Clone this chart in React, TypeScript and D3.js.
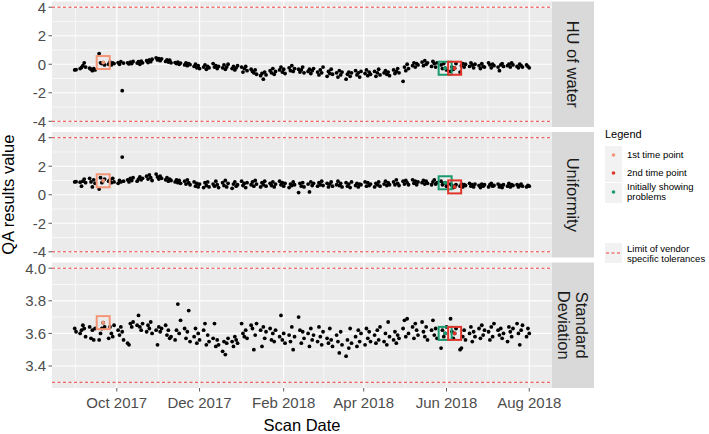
import React from "react";
import * as d3 from "d3";

const parseDate = d3.timeParse("%Y-%m-%d");

// scans were done on working days between these two dates
const scanStart = "2017-08-31";
const scanEnd = "2018-08-01";

const xTickDates = ["2017-10-01", "2017-12-01", "2018-02-01", "2018-04-01", "2018-06-01", "2018-08-01"];
const xTickLabels = ["Oct 2017", "Dec 2017", "Feb 2018", "Apr 2018", "Jun 2018", "Aug 2018"];

const facetLabels = [["HU of water"], ["Uniformity"], ["Standard", "Deviation"]];

const huWater = [
  -0.40, -0.38,
  -0.30, -0.22, -0.10, 0.10, -0.20,
  -0.28, -0.35, -0.45, -0.30, -0.40,
  0.75, 0.10, 0.05, 0.12, -0.05,
  0.00, 0.15, -0.05, 0.10, 0.05,
  0.12, 0.00, 0.18, -1.85, 0.08,
  0.10, 0.02, 0.15, 0.05, 0.20,
  0.08, 0.18, 0.00, 0.22, 0.10,
  0.25, 0.12, 0.30, 0.18, 0.35,
  0.45, 0.30, 0.40, 0.25, 0.38,
  0.20, 0.30, 0.15, 0.28, 0.10,
  0.12, 0.05, 0.15, 0.00, 0.08,
  -0.05, 0.10, -0.10, 0.05, -0.02,
  -0.15, 0.00, -0.25, -0.10, -0.30,
  -0.20, -0.05, -0.35, -0.15, -0.25,
  0.05, -0.20, -0.10, -0.30, -0.15,
  -0.25, -0.05, -0.35, -0.20, 0.00,
  -0.30, -0.15, -0.40, -0.25, -0.10,
  -0.20, -0.55, -0.30, -0.15, -0.45,
  -0.35, -0.50, -0.60, -0.40, -0.70,
  -0.80, -0.65, -1.05, -0.55, -0.75,
  -0.45, -0.60, -0.30, -0.70, -0.50,
  -0.40, -0.20, -0.55, -0.35, -0.65,
  -0.25, -0.45, -0.10, -0.50, -0.30,
  -0.35, -0.55, -0.40, -0.20, -0.60,
  -0.50, -0.35, -0.65, -0.45, -0.30,
  -0.55, -0.75, -0.40, -0.60, -0.20,
  -0.85, -0.50, -0.65, -0.35, -0.70,
  -0.60, -0.90, -0.45, -0.75, -0.55,
  -1.05, -0.70, -0.55, -0.85, -0.60,
  -0.45, -0.75, -0.60, -0.90, -0.50,
  -0.65, -0.40, -0.80, -0.55, -0.70,
  -0.50, -0.85, -0.60, -0.35, -0.75,
  -0.60, -0.45, -0.70, -0.55, -0.80,
  -0.40, -0.65, -0.50, -0.30, -0.60,
  -1.20, -0.20, -0.45, 0.00, -0.30,
  -0.10, 0.10, -0.20, 0.05, -0.05,
  0.15, -0.10, 0.25, 0.00, 0.10,
  -0.15, 0.20, 0.05, -0.20, 0.10,
  -0.05, -0.30, 0.05, -0.28, -0.40,
  -0.50, -0.20, -0.35, -0.28, 0.05,
  -0.55, -0.10, 0.05, -0.20, 0.00,
  -0.15, 0.10, -0.05, -0.25, 0.00,
  -0.10, -0.30, 0.05, -0.15, -0.20,
  0.10, -0.05, -0.25, 0.00, -0.10,
  -0.20, -0.45, -0.05, 0.05, -0.15,
  -0.10, 0.00, -0.20, 0.10, -0.05,
  -0.15, -0.25, 0.00, -0.10, -0.20,
  -0.05, -0.15, -0.25,
];

const uniformity = [
  0.90, 0.92,
  0.88, 0.60, 0.95, 1.10, 0.85,
  1.15, 0.90, 0.55, 1.05, 0.80,
  0.40, 1.20, 0.85, 0.98, 1.10,
  0.95, 1.05, 0.85, 1.15, 0.90,
  0.80, 1.00, 0.90, 2.64, 0.95,
  1.05, 0.90, 1.15, 1.00, 1.20,
  0.95, 1.10, 1.25, 1.05, 1.15,
  1.30, 1.10, 1.40, 1.20, 1.00,
  1.45, 1.25, 1.10, 1.30, 1.15,
  1.05, 1.20, 0.95, 1.10, 1.00,
  0.90, 1.05, 0.85, 1.00, 0.80,
  0.95, 0.75, 1.05, 0.85, 0.70,
  0.90, 0.60, 0.80, 0.55, 0.75,
  0.50, 0.85, 0.65, 0.90, 0.55,
  0.75, 0.60, 0.95, 0.70, 0.50,
  0.85, 0.65, 1.00, 0.55, 0.80,
  0.45, 0.75, 0.90, 0.60, 0.70,
  0.95, 0.65, 0.80, 0.50, 0.85,
  0.70, 0.90, 0.60, 1.00, 0.75,
  0.55, 0.85, 0.70, 0.95, 0.60,
  0.80, 0.65, 0.90, 0.55, 0.75,
  0.95, 0.70, 0.85, 0.60, 0.80,
  0.50, 0.75, 0.65, 0.90, 0.70,
  0.15, 0.80, 0.60, 0.85, 0.55,
  0.75, 0.20, 0.90, 0.65, 0.80,
  0.60, 0.85, 0.70, 0.95, 0.65,
  0.80, 0.55, 0.75, 0.90, 0.60,
  0.70, 0.95, 0.65, 0.80, 0.55,
  0.85, 0.60, 0.75, 0.50, 0.90,
  0.65, 0.80, 0.55, 0.75, 0.70,
  0.90, 0.60, 0.85, 0.65, 0.75,
  0.55, 0.80, 0.70, 0.90, 0.60,
  0.75, 0.95, 0.65, 0.85, 0.70,
  0.90, 0.70, 1.05, 0.80, 0.65,
  0.95, 0.75, 1.00, 0.85, 0.70,
  1.05, 0.80, 0.95, 0.70, 0.90,
  0.85, 1.00, 0.75, 0.95, 0.80,
  0.70, 0.90, 1.05, 0.75, 0.85,
  0.95, 0.70, 0.80, 0.84, 0.60,
  0.75, 0.65, 0.50, 0.55, 0.70,
  0.60, 0.75, 0.55, 0.70, 0.65,
  0.80, 0.60, 0.70, 0.55, 0.75,
  0.65, 0.50, 0.75, 0.60, 0.70,
  0.55, 0.70, 0.80, 0.60, 0.65,
  0.75, 0.55, 0.65, 0.50, 0.70,
  0.60, 0.80, 0.55, 0.70, 0.65,
  0.70, 0.55, 0.65, 0.75, 0.60,
  0.55, 0.65, 0.60,
];

const stdDev = [
  3.63, 3.61,
  3.60, 3.62, 3.65, 3.63, 3.58,
  3.64, 3.57, 3.62, 3.56, 3.63,
  3.56, 3.60, 3.63, 3.666, 3.64,
  3.57, 3.64, 3.60, 3.58, 3.65,
  3.62, 3.59, 3.64, 3.61, 3.56,
  3.54, 3.53, 3.66, 3.64, 3.67,
  3.65, 3.71, 3.64, 3.62, 3.66,
  3.61, 3.65, 3.63, 3.67, 3.60,
  3.62, 3.53, 3.64, 3.61, 3.63,
  3.65, 3.59, 3.62, 3.57, 3.58,
  3.56, 3.62, 3.78, 3.60, 3.68,
  3.63, 3.57, 3.61, 3.74, 3.55,
  3.58, 3.63, 3.54, 3.60, 3.56,
  3.62, 3.66, 3.53, 3.59, 3.55,
  3.57, 3.66, 3.52, 3.56, 3.53,
  3.49, 3.55, 3.47, 3.54, 3.57,
  3.55, 3.52, 3.58, 3.56, 3.54,
  3.66, 3.60, 3.58, 3.62, 3.57,
  3.65, 3.63, 3.50, 3.59, 3.66,
  3.62, 3.52, 3.64, 3.57, 3.61,
  3.63, 3.56, 3.60, 3.55, 3.62,
  3.58, 3.71, 3.56, 3.60, 3.54,
  3.59, 3.55, 3.64, 3.50, 3.58,
  3.70, 3.62, 3.54, 3.61, 3.57,
  3.60, 3.52, 3.63, 3.56, 3.59,
  3.55, 3.64, 3.58, 3.53, 3.61,
  3.57, 3.54, 3.63, 3.56, 3.52,
  3.59, 3.55, 3.48, 3.61, 3.53,
  3.46, 3.56, 3.51, 3.63, 3.54,
  3.58, 3.52, 3.62, 3.55, 3.60,
  3.53, 3.63, 3.57, 3.61, 3.55,
  3.59, 3.54, 3.62, 3.56, 3.64,
  3.55, 3.60, 3.53, 3.67, 3.58,
  3.56, 3.61, 3.54, 3.59, 3.57,
  3.63, 3.68, 3.58, 3.69, 3.60,
  3.64, 3.57, 3.66, 3.62, 3.59,
  3.67, 3.61, 3.58, 3.64, 3.56,
  3.62, 3.68, 3.59, 3.63, 3.57,
  3.51, 3.62, 3.58, 3.60, 3.64,
  3.69, 3.61, 3.57, 3.60, 3.63,
  3.50, 3.51, 3.58, 3.62, 3.56,
  3.60, 3.64, 3.55, 3.61, 3.58,
  3.63, 3.57, 3.65, 3.59, 3.62,
  3.61, 3.56, 3.64, 3.58, 3.66,
  3.62, 3.59, 3.63, 3.57, 3.60,
  3.55, 3.64, 3.61, 3.58, 3.63,
  3.66, 3.60, 3.53, 3.62, 3.65,
  3.58, 3.63, 3.60,
];

const toleranceLimits = [[-4, 4], [-4, 4], [3.3, 4.0]];
const yTicks = [[-4, -2, 0, 2, 4], [-4, -2, 0, 2, 4], [3.4, 3.6, 3.8, 4.0]];
const yMinorTicks = [[-3, -1, 1, 3], [-3, -1, 1, 3], [3.3, 3.5, 3.7, 3.9]];

const firstTimePoint = "2017-09-21";
const secondTimePoint = "2018-06-07";
const initialProblem = "2018-05-31";

const legendLabels = [["1st time point"], ["2nd time point"], ["Initially showing", "problems"]];
const limitLabel = ["Limit of vendor", "specific tolerances"];

const colFirst = "#F39577";
const colSecond = "#E0342B";
const colInitial = "#1B9A6E";
const colLimit = "#EE3B3B";

const W = 709;
const H = 434;
const left = 52;
const right = 552;
const stripW = 42;
const panelTops = [1.5, 132, 262.5];
const panelH = 125.5;
const font = "'Liberation Sans', Arial, sans-serif";

const App = () => {
  const scanDates = d3.timeDay
    .range(parseDate(scanStart)!, d3.timeDay.offset(parseDate(scanEnd)!, 1))
    .filter((d) => d.getDay() !== 0 && d.getDay() !== 6);

  const [d0, d1] = d3.extent(scanDates) as [Date, Date];
  const pad = (d1.getTime() - d0.getTime()) * 0.05;
  const x = d3
    .scaleTime()
    .domain([new Date(d0.getTime() - pad), new Date(d1.getTime() + pad)])
    .range([left, right]);

  const majorX = xTickDates.map((s) => parseDate(s)!);
  // minor grid lines sit half way between the major ones
  const outer = [parseDate("2017-08-01")!, ...majorX, parseDate("2018-10-01")!];
  const minorX = d3
    .pairs(outer)
    .map(([a, b]) => new Date((a.getTime() + b.getTime()) / 2))
    .filter((d) => x(d) >= left && x(d) <= right);

  const series = [huWater, uniformity, stdDev];
  const dateKey = d3.timeFormat("%Y-%m-%d");
  const idxOf = (s: string) => scanDates.findIndex((d) => dateKey(d) === s);
  const specials = [
    { idx: idxOf(firstTimePoint), color: colFirst },
    { idx: idxOf(initialProblem), color: colInitial },
    { idx: idxOf(secondTimePoint), color: colSecond },
  ];

  const box = 13;

  return (
    <svg width={W} height={H} style={{ position: "absolute", left: 0, top: 0, fontFamily: font }}>
      <rect width={W} height={H} fill="#fff" />
      {series.map((vals, p) => {
        const [lo, hi] = toleranceLimits[p];
        const e = (hi - lo) * 0.05;
        const top = panelTops[p];
        const y = d3.scaleLinear().domain([lo - e, hi + e]).range([top + panelH, top]);
        const fmt = p === 2 ? d3.format(".1f") : (v: number) => String(v);
        const n = Math.min(vals.length, scanDates.length);
        return (
          <g key={p}>
            <rect x={left} y={top} width={right - left} height={panelH} fill="#EBEBEB" />
            {yMinorTicks[p].map((t) => (
              <line key={"ym" + t} x1={left} x2={right} y1={y(t)} y2={y(t)} stroke="#fff" strokeWidth={0.6} />
            ))}
            {minorX.map((d, i) => (
              <line key={"xm" + i} x1={x(d)} x2={x(d)} y1={top} y2={top + panelH} stroke="#fff" strokeWidth={0.6} />
            ))}
            {yTicks[p].map((t) => (
              <line key={"yM" + t} x1={left} x2={right} y1={y(t)} y2={y(t)} stroke="#fff" strokeWidth={1.2} />
            ))}
            {majorX.map((d, i) => (
              <line key={"xM" + i} x1={x(d)} x2={x(d)} y1={top} y2={top + panelH} stroke="#fff" strokeWidth={1.2} />
            ))}
            {[lo, hi].map((t) => (
              <line key={"lim" + t} x1={left} x2={right} y1={y(t)} y2={y(t)} stroke={colLimit} strokeWidth={1} strokeDasharray="3,2.5" />
            ))}
            {d3.range(n).map((i) => (
              <circle key={i} cx={x(scanDates[i])} cy={y(vals[i])} r={1.9} fill="#000" />
            ))}
            {specials.map((s, k) => (
              <circle key={"sp" + k} cx={x(scanDates[s.idx])} cy={y(vals[s.idx])} r={1.9} fill={s.color} />
            ))}
            {specials.map((s, k) => (
              <rect
                key={"bx" + k}
                x={x(scanDates[s.idx]) - box / 2}
                y={y(vals[s.idx]) - box / 2}
                width={box}
                height={box}
                fill="none"
                stroke={s.color}
                strokeWidth={2}
              />
            ))}
            {yTicks[p].map((t) => (
              <g key={"yt" + t}>
                <line x1={left - 3.5} x2={left} y1={y(t)} y2={y(t)} stroke="#333" strokeWidth={0.8} />
                <text x={left - 6} y={y(t) + 5.3} textAnchor="end" fontSize={15} fill="#4D4D4D">
                  {fmt(t)}
                </text>
              </g>
            ))}
            <rect x={right} y={top} width={stripW} height={panelH} fill="#D9D9D9" />
            <g transform={`translate(${right + stripW / 2},${top + panelH / 2}) rotate(90)`}>
              {facetLabels[p].map((l, k) => (
                <text
                  key={k}
                  x={0}
                  y={(facetLabels[p].length - 1) * -9 + k * 18}
                  textAnchor="middle"
                  dominantBaseline="central"
                  fontSize={16.5}
                  fill="#1A1A1A"
                >
                  {l}
                </text>
              ))}
            </g>
          </g>
        );
      })}
      {majorX.map((d, i) => (
        <g key={"xt" + i}>
          <line x1={x(d)} x2={x(d)} y1={panelTops[2] + panelH} y2={panelTops[2] + panelH + 3.5} stroke="#333" strokeWidth={0.8} />
          <text x={x(d)} y={408} textAnchor="middle" fontSize={15} fill="#4D4D4D">
            {xTickLabels[i]}
          </text>
        </g>
      ))}
      <text x={(left + right) / 2} y={431} textAnchor="middle" fontSize={16.5} fill="#000">
        Scan Date
      </text>
      <text
        transform={`translate(14,${(panelTops[0] + panelTops[2] + panelH) / 2}) rotate(-90)`}
        textAnchor="middle"
        fontSize={16.5}
        fill="#000"
      >
        QA results value
      </text>

      {/* legend */}
      <text x={605} y={138} fontSize={11} fill="#000">
        Legend
      </text>
      {legendLabels.map((lab, i) => {
        const cy = [155, 173, 192][i];
        const col = [colFirst, colSecond, colInitial][i];
        return (
          <g key={"lg" + i}>
            <rect x={605} y={cy - 9} width={17} height={lab.length > 1 ? 20 : 18} fill="#F2F2F2" />
            <circle cx={613.5} cy={cy} r={1.8} fill={col} />
            {lab.map((l, k) => (
              <text key={k} x={627} y={cy + 3.3 + (lab.length - 1) * -5 + k * 10} fontSize={9.5} fill="#000">
                {l}
              </text>
            ))}
          </g>
        );
      })}
      <rect x={605} y={243} width={17} height={20} fill="#F2F2F2" />
      <line x1={606} x2={621} y1={253} y2={253} stroke={colLimit} strokeWidth={1} strokeDasharray="3,2.5" />
      {limitLabel.map((l, k) => (
        <text key={k} x={627} y={251.5 + k * 10} fontSize={9.5} fill="#000">
          {l}
        </text>
      ))}
    </svg>
  );
};

export default App;
